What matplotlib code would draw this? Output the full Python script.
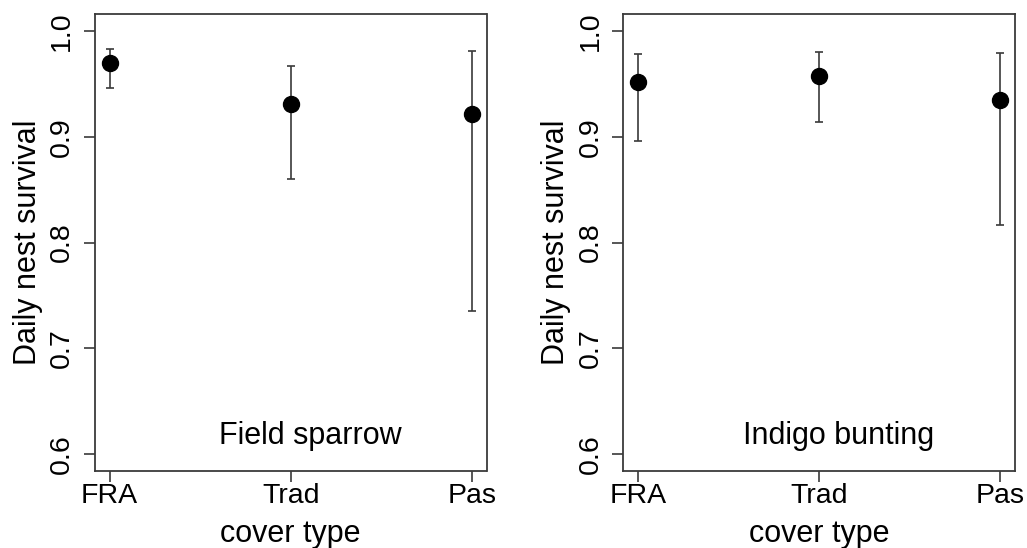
import matplotlib
matplotlib.use("Agg")
import matplotlib.pyplot as plt

plt.rcParams["font.family"] = ["Liberation Sans", "DejaVu Sans"]

cover_types = ["FRA", "Trad", "Pas"]
species = ["Field sparrow", "Indigo bunting"]

# daily nest survival estimates with lower / upper confidence limits
sparrow_est = [0.970, 0.931, 0.922]
sparrow_lo = [0.946, 0.860, 0.735]
sparrow_hi = [0.983, 0.967, 0.981]

bunting_est = [0.952, 0.958, 0.935]
bunting_lo = [0.896, 0.914, 0.817]
bunting_hi = [0.978, 0.980, 0.979]

y_ticks = [0.6, 0.7, 0.8, 0.9, 1.0]

panels = [
    (species[0], sparrow_est, sparrow_lo, sparrow_hi),
    (species[1], bunting_est, bunting_lo, bunting_hi),
]

fig = plt.figure(figsize=(10.27, 5.48), dpi=100)
lefts = [95 / 1027, 623.3 / 1027]
width = 391.5 / 1027
bottom = 77.3 / 548
height = 456.4 / 548

edge = "#3a3a3a"

for left, (name, est, lo, hi) in zip(lefts, panels):
    ax = fig.add_axes([left, bottom, width, height])
    x = list(range(1, len(cover_types) + 1))
    err = [[e - l for e, l in zip(est, lo)], [h - e for e, h in zip(est, hi)]]
    ax.errorbar(x, est, yerr=err, fmt="none", ecolor=edge, elinewidth=1.2,
                capsize=3, capthick=1.2)
    ax.plot(x, est, "o", color="black", markersize=11.5)

    ax.set_xlim(0.92, 3.08)
    ax.set_ylim(0.584, 1.016)
    ax.set_xticks(x)
    ax.set_xticklabels(cover_types)
    ax.set_yticks(y_ticks)
    ax.set_yticklabels(["%.1f" % v for v in y_ticks], rotation=90, va="center")

    for s in ax.spines.values():
        s.set_color(edge)
        s.set_linewidth(1.3)
    ax.tick_params(axis="both", direction="out", length=7.7, width=1.2,
                   color=edge, labelsize=20.5)
    ax.tick_params(axis="x", pad=0.8)
    ax.tick_params(axis="y", pad=6.5)

    ax.set_xlabel("cover type", fontsize=22)
    ax.xaxis.set_label_coords(0.5, -0.138)
    ax.xaxis.label.set_verticalalignment("center")
    ax.set_ylabel("Daily nest survival", fontsize=22)
    ax.yaxis.set_label_coords(-0.172, 0.5)
    ax.yaxis.label.set_verticalalignment("center")

    ax.text(2.11, 0.6167, name, fontsize=22, ha="center", va="center")

fig.savefig("out.png", dpi=100)
